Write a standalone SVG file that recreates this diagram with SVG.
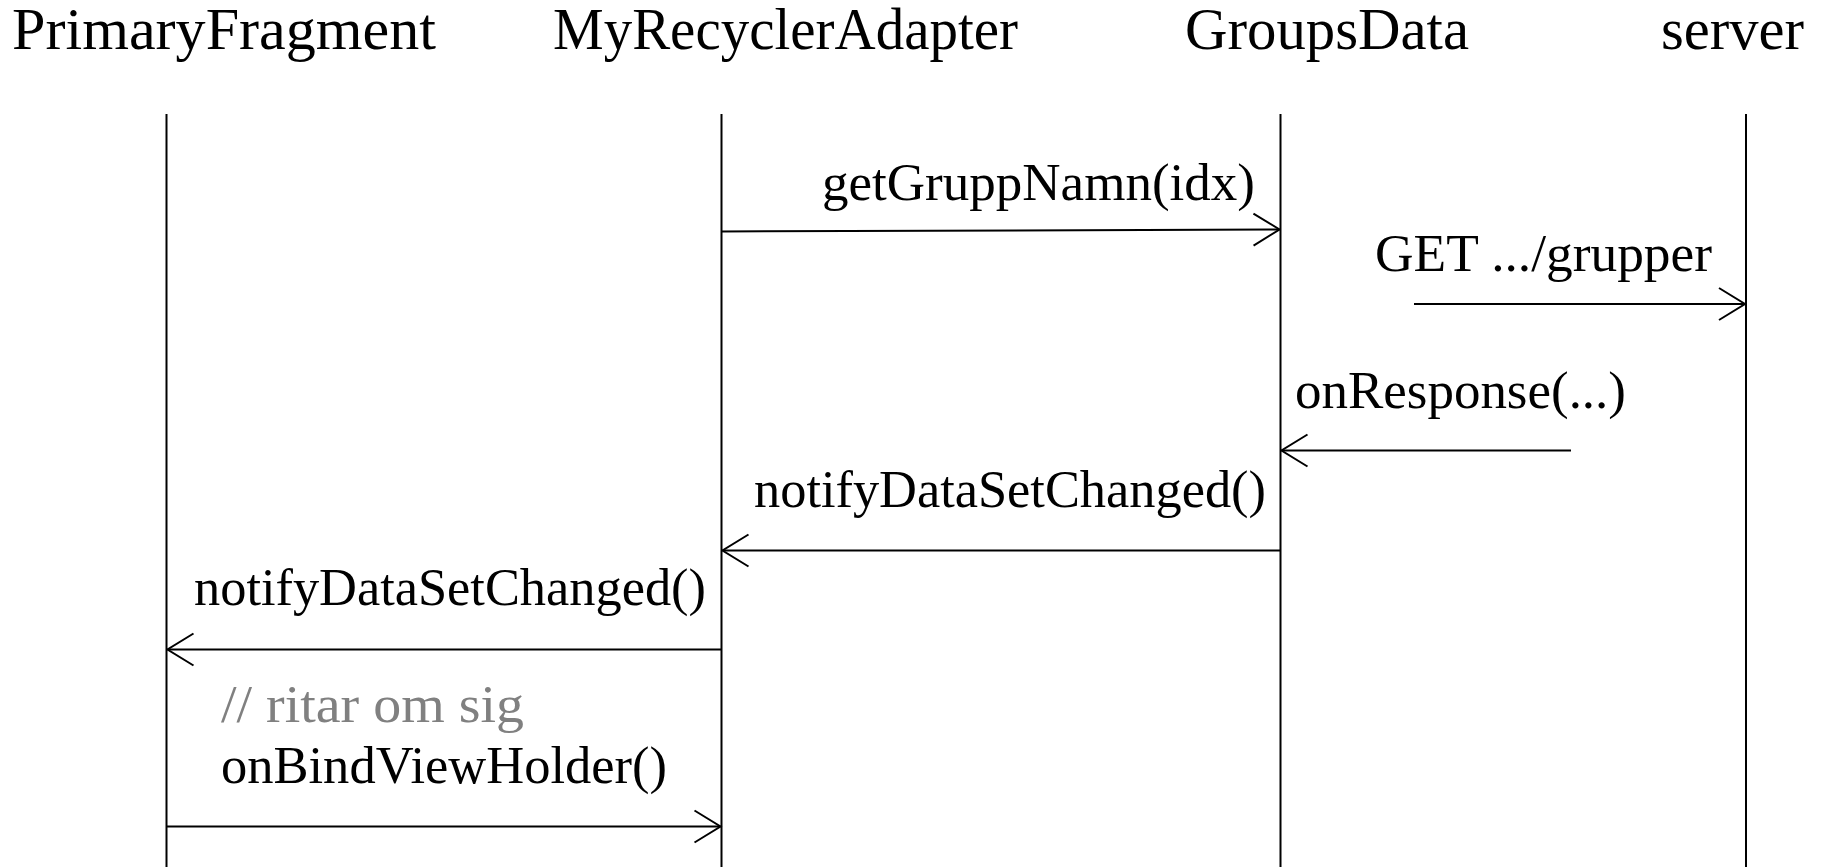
<svg xmlns="http://www.w3.org/2000/svg" width="1825" height="867" viewBox="0 0 1825 867">
  <style>
    .hdr { font-family: "Liberation Serif", "Times New Roman", serif; font-size: 58.5px; fill: #000; }
    .lbl { font-family: "Liberation Serif", "Times New Roman", serif; font-size: 52.5px; fill: #000; }
    .note { fill: #808080; }
    .life { stroke: #000; stroke-width: 2; fill: none; }
    .msg { stroke: #000; stroke-width: 2; fill: none; marker-end: url(#open); }
  </style>
  <defs>
    <marker id="open" viewBox="0 0 30 36" refX="28" refY="18" markerWidth="30" markerHeight="36" markerUnits="userSpaceOnUse" orient="auto">
      <path d="M2,2 L28,18 L2,34" fill="none" stroke="#000" stroke-width="2"/>
    </marker>
  </defs>
  <rect width="1825" height="867" fill="#fff"/>

  <g id="PrimaryFragment">
    <text class="hdr" x="12" y="49" textLength="424" lengthAdjust="spacingAndGlyphs">PrimaryFragment</text>
    <line class="life" x1="166.5" y1="114" x2="166.5" y2="867"/>
  </g>
  <g id="MyRecyclerAdapter">
    <text class="hdr" x="553" y="49" textLength="465" lengthAdjust="spacingAndGlyphs">MyRecyclerAdapter</text>
    <line class="life" x1="721.5" y1="114" x2="721.5" y2="867"/>
  </g>
  <g id="GroupsData">
    <text class="hdr" x="1185" y="49" textLength="284" lengthAdjust="spacingAndGlyphs">GroupsData</text>
    <line class="life" x1="1280.5" y1="114" x2="1280.5" y2="867"/>
  </g>
  <g id="server">
    <text class="hdr" x="1661" y="49" textLength="143" lengthAdjust="spacingAndGlyphs">server</text>
    <line class="life" x1="1746" y1="114" x2="1746" y2="867"/>
  </g>

  <g id="connectors">
    <line class="msg" x1="721.5" y1="231.5" x2="1279.5" y2="229.5"/>
    <text class="lbl" x="822" y="200" textLength="433" lengthAdjust="spacingAndGlyphs">getGruppNamn(idx)</text>

    <line class="msg" x1="1414" y1="304" x2="1745" y2="304"/>
    <text class="lbl" x="1375" y="271" textLength="337" lengthAdjust="spacingAndGlyphs">GET .../grupper</text>

    <line class="msg" x1="1571" y1="450.5" x2="1281.5" y2="450.5"/>
    <text class="lbl" x="1295" y="408" textLength="331" lengthAdjust="spacingAndGlyphs">onResponse(...)</text>

    <line class="msg" x1="1280.5" y1="550.5" x2="722.5" y2="550.5"/>
    <text class="lbl" x="754" y="507" textLength="512" lengthAdjust="spacingAndGlyphs">notifyDataSetChanged()</text>

    <line class="msg" x1="721.5" y1="649.5" x2="167.5" y2="649.5"/>
    <text class="lbl" x="194" y="605" textLength="512" lengthAdjust="spacingAndGlyphs">notifyDataSetChanged()</text>

    <text class="lbl note" x="221" y="722" textLength="303" lengthAdjust="spacingAndGlyphs">// ritar om sig</text>
    <text class="lbl" x="221" y="783" textLength="446" lengthAdjust="spacingAndGlyphs">onBindViewHolder()</text>
    <line class="msg" x1="166.5" y1="826.5" x2="720.5" y2="826.5"/>
  </g>
</svg>
